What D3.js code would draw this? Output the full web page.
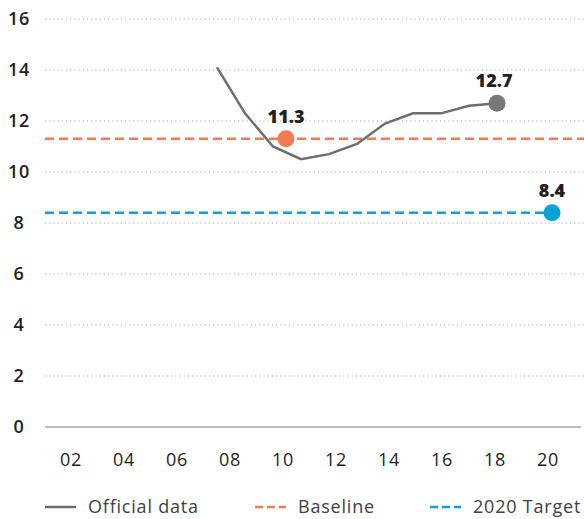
<!DOCTYPE html>
<html><head><meta charset="utf-8">
<script src="https://cdn.jsdelivr.net/npm/d3@7"></script>
<style>body{margin:0;background:#fff}svg{display:block}</style>
</head><body><svg id="c" width="584" height="519"></svg>
<script>
const tickYears = [2002,2004,2006,2008,2010,2012,2014,2016,2018,2020];
const tickLabels = ["02","04","06","08","10","12","14","16","18","20"];
const yTicks = [0,2,4,6,8,10,12,14,16];
const officialYears = [2008,2009,2010,2011,2012,2013,2014,2015,2016,2017,2018];
const officialValues = [14.1,12.3,11.0,10.5,10.7,11.1,11.9,12.3,12.3,12.6,12.7];
const baselineYear = 2010, baselineValue = 11.3;
const lastYear = 2018, lastValue = 12.7;
const targetYear = 2020, targetValue = 8.4;
const legendLabels = ["Official data","Baseline","2020 Target"];

const FONT = "'Open Sans', sans-serif";
const cGray = "#6d6e71", cDot = "#77787b", cOrange = "#f47b4f", cBlue = "#0aa3d8";
const svg = d3.select("#c");
const left = 45, right = 584;

const y = d3.scaleLinear().domain([0,16]).range([427,19]);
const x = d3.scaleLinear().domain([2002,2020]).range([71,548]);
const xd = d3.scaleLinear().domain([2008,2018]).range([217,497]);

// gridlines
svg.append("g").selectAll("line").data(yTicks.filter(d=>d>0)).join("line")
  .attr("x1",left).attr("x2",right).attr("y1",d=>y(d)).attr("y2",d=>y(d))
  .attr("stroke","#a7a9ac").attr("stroke-width",1.2).attr("stroke-dasharray","1.2,3");
svg.append("line").attr("x1",left).attr("x2",581).attr("y1",y(0)).attr("y2",y(0))
  .attr("stroke","#a7a9ac").attr("stroke-width",1.5);

// y labels
svg.append("g").selectAll("text").data(yTicks).join("text")
  .attr("x",19).attr("y",d=>y(d)).attr("dy","0.36em").attr("text-anchor","middle")
  .attr("font-family",FONT).attr("font-size",18).attr("font-weight",600)
  .attr("letter-spacing",0.6).attr("fill","#231f20").text(d=>d);

// x labels
svg.append("g").selectAll("text").data(tickYears).join("text")
  .attr("x",d=>x(d)).attr("y",460).attr("dy","0.36em").attr("text-anchor","middle")
  .attr("font-family",FONT).attr("font-size",18).attr("font-weight",500)
  .attr("letter-spacing",0.8).attr("fill","#231f20")
  .text((d,i)=>tickLabels[i]);

// baseline & target
svg.append("line").attr("x1",left).attr("x2",right).attr("y1",y(baselineValue)).attr("y2",y(baselineValue))
  .attr("stroke",cOrange).attr("stroke-width",2.5).attr("stroke-dasharray","9,5");
svg.append("line").attr("x1",left).attr("x2",x(targetYear)).attr("y1",y(targetValue)).attr("y2",y(targetValue))
  .attr("stroke",cBlue).attr("stroke-width",2.5).attr("stroke-dasharray","9,5");

// official line
svg.append("path").datum(officialYears.map((yr,i)=>[yr,officialValues[i]]))
  .attr("d",d3.line().x(d=>xd(d[0])).y(d=>y(d[1])))
  .attr("fill","none").attr("stroke",cGray).attr("stroke-width",2.5);

// dots
const dots = [
  {x:x(baselineYear)+3, v:baselineValue, c:cOrange},
  {x:xd(lastYear), v:lastValue, c:cDot},
  {x:x(targetYear)+4, v:targetValue, c:cBlue}
];
svg.append("g").selectAll("circle").data(dots).join("circle")
  .attr("cx",d=>d.x).attr("cy",d=>y(d.v)).attr("r",8.5).attr("fill",d=>d.c);
svg.append("g").selectAll("text").data(dots).join("text")
  .attr("x",(d,i)=>d.x - (i===1?3:0)).attr("y",d=>y(d.v)-16).attr("text-anchor","middle")
  .attr("font-family",FONT).attr("font-weight",800).attr("font-size",18).attr("fill","#231f20")
  .text(d=>d.v.toFixed(1));

// legend
const lg = svg.append("g");
const legendItems = [
  {x:45, c:cGray, dash:null},
  {x:255, c:cOrange, dash:"8,4"},
  {x:430, c:cBlue, dash:"8,4"}
];
legendItems.forEach((it,i)=>{
  lg.append("line").attr("x1",it.x).attr("x2",it.x+31).attr("y1",507).attr("y2",507)
    .attr("stroke",it.c).attr("stroke-width",2.5).attr("stroke-dasharray",it.dash);
  lg.append("text").attr("x",it.x+43).attr("y",507).attr("dy","0.36em")
    .attr("font-family",FONT).attr("font-size",18).attr("letter-spacing",0.8)
    .attr("fill","#414042").text(legendLabels[i]);
});
</script></body></html>
